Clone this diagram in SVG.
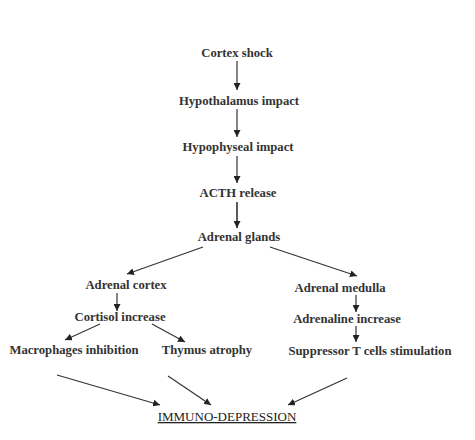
<svg xmlns="http://www.w3.org/2000/svg" width="475" height="440" viewBox="0 0 475 440">
<defs>
<marker id="ah" markerUnits="userSpaceOnUse" markerWidth="8" markerHeight="7" refX="7" refY="3.5" orient="auto">
<path d="M0,0 L7,3.5 L0,7 Z" fill="#222"/>
</marker>
<style>
.n{font-family:"Liberation Serif","Times New Roman",serif;font-weight:bold;font-size:12.7px;fill:#333;text-anchor:middle}
.f{font-family:"Liberation Serif","Times New Roman",serif;font-size:13px;fill:#222;text-anchor:middle;text-decoration:underline}
.c{stroke:#333;stroke-width:1.2;fill:none;marker-end:url(#ah)}
</style>
</defs>
<rect width="475" height="440" fill="#fff"/>
<g id="connectors">
<line class="c" x1="237" y1="61" x2="237" y2="90"/>
<line class="c" x1="237" y1="109" x2="237" y2="137"/>
<line class="c" x1="237" y1="156" x2="237" y2="183"/>
<line class="c" x1="237" y1="202" x2="237" y2="228" style="stroke-width:1.6"/>
<line class="c" x1="203" y1="247" x2="127" y2="274"/>
<line class="c" x1="270" y1="247" x2="357" y2="276"/>
<line class="c" x1="117" y1="293" x2="117" y2="311"/>
<line class="c" x1="100" y1="324" x2="65" y2="340"/>
<line class="c" x1="152" y1="324" x2="185" y2="342"/>
<line class="c" x1="356" y1="295" x2="356" y2="312"/>
<line class="c" x1="356" y1="326" x2="356" y2="342"/>
<line class="c" x1="57" y1="375" x2="160" y2="405"/>
<line class="c" x1="168" y1="376" x2="211" y2="405"/>
<line class="c" x1="347" y1="378" x2="288" y2="405"/>
</g>
<g id="cortex-shock"><text class="n" x="237" y="57">Cortex shock</text></g>
<g id="hypothalamus"><text class="n" x="239" y="105">Hypothalamus impact</text></g>
<g id="hypophyseal"><text class="n" x="238" y="151">Hypophyseal impact</text></g>
<g id="acth"><text class="n" x="238" y="197">ACTH release</text></g>
<g id="adrenal-glands"><text class="n" x="239" y="241">Adrenal glands</text></g>
<g id="adrenal-cortex"><text class="n" x="126" y="289">Adrenal cortex</text></g>
<g id="cortisol"><text class="n" x="120" y="321">Cortisol increase</text></g>
<g id="macrophages"><text class="n" x="74" y="354">Macrophages inhibition</text></g>
<g id="thymus"><text class="n" x="207" y="354">Thymus atrophy</text></g>
<g id="adrenal-medulla"><text class="n" x="340" y="292">Adrenal medulla</text></g>
<g id="adrenaline"><text class="n" x="347" y="323">Adrenaline increase</text></g>
<g id="suppressor"><text class="n" x="370" y="355">Suppressor T cells stimulation</text></g>
<g id="immuno"><text class="f" x="227" y="421">IMMUNO-DEPRESSION</text></g>
</svg>
